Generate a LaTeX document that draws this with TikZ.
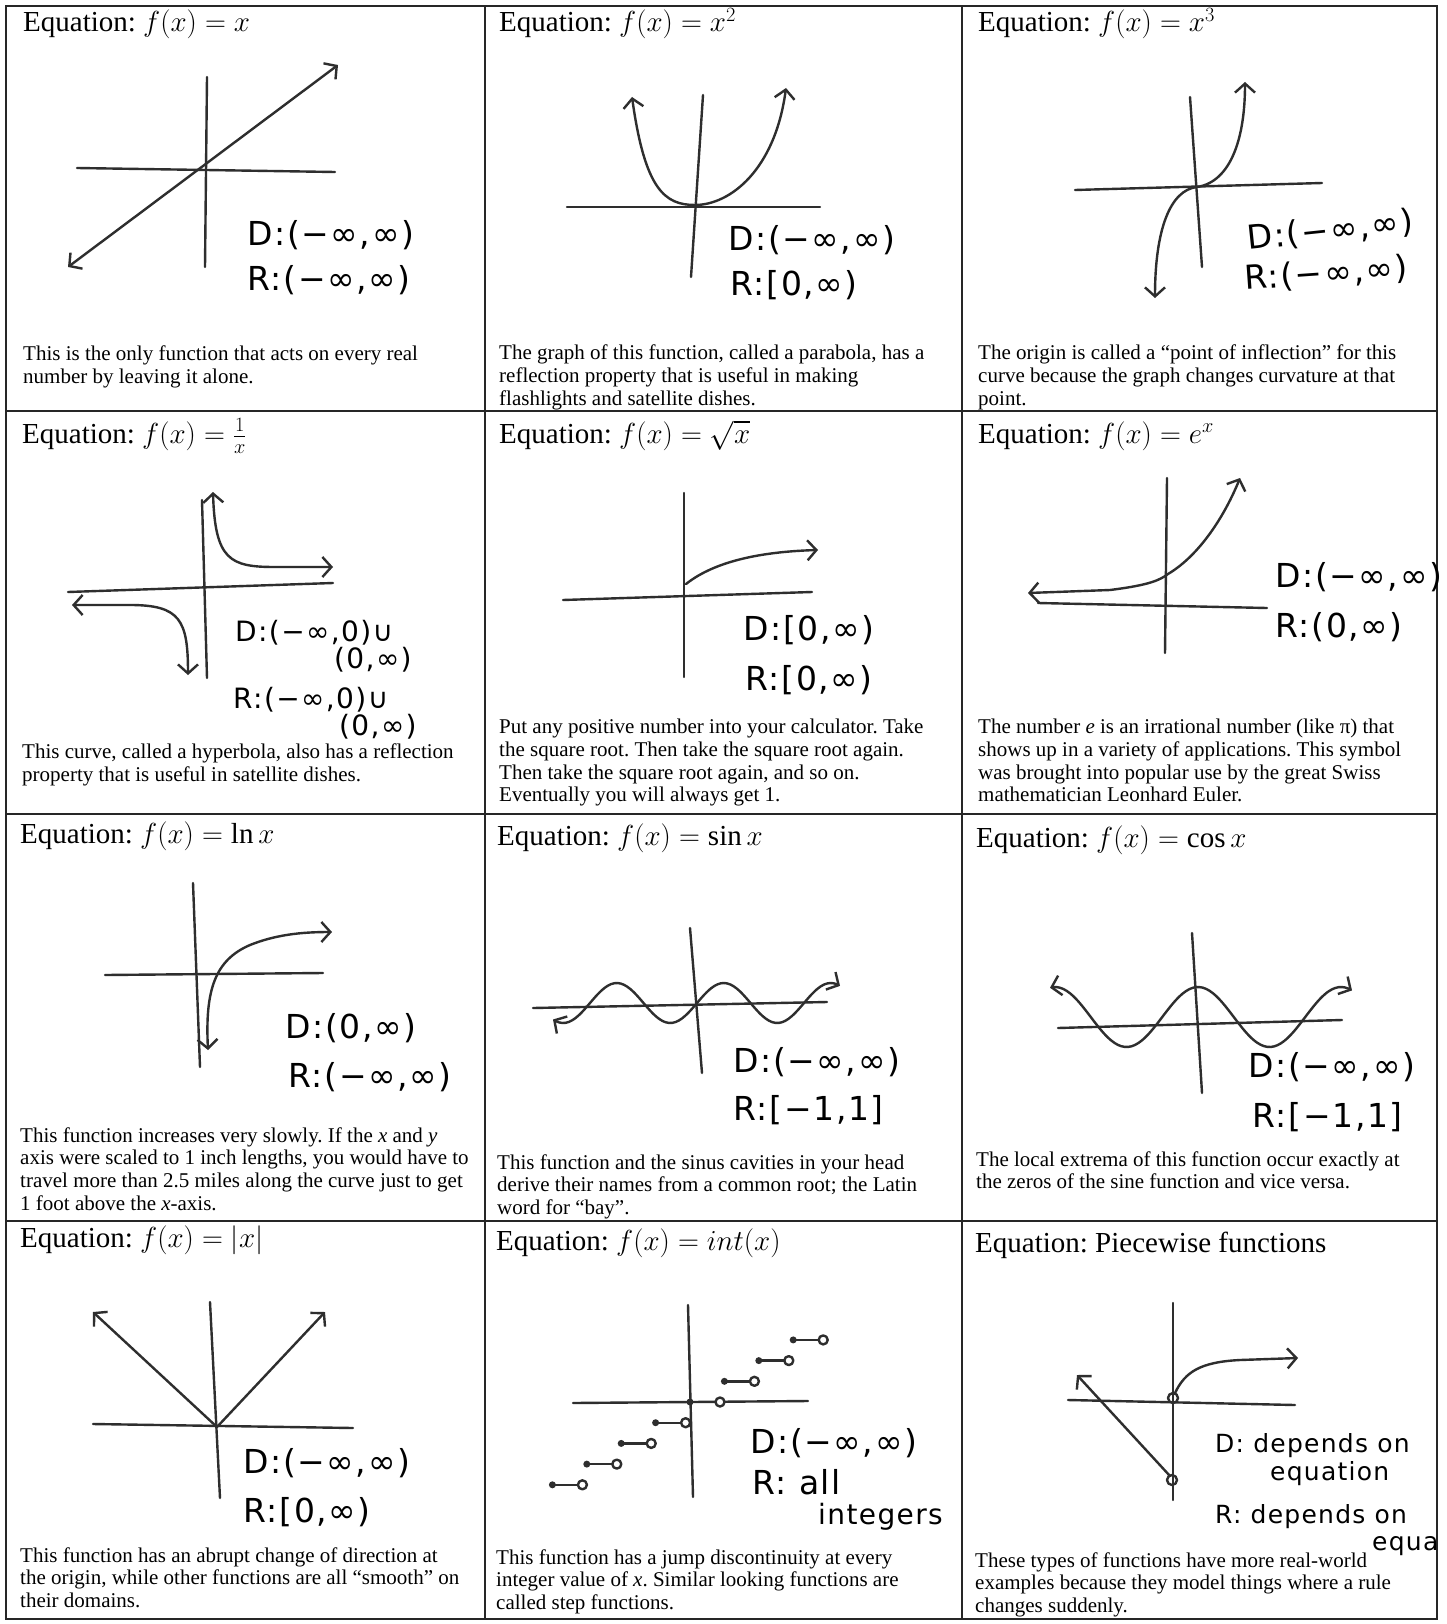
\RequirePackage{fix-cm}
\documentclass[tikz,border=0pt]{standalone}
\usepackage{fontspec}
\setmainfont{Liberation Serif}
\newfontfamily\handfamily[LetterSpace=5]{DejaVu Sans}
\usetikzlibrary{arrows.meta}

\newcommand\headfont{\fontsize{29}{32}\selectfont}
\newcommand\notefont{\fontsize{21}{22.7}\selectfont}
\newcommand\handfont{\handfamily\fontsize{33}{36}\selectfont}
\frenchspacing

\begin{document}
\begin{tikzpicture}[
	x=1pt, y=-1pt,
	head/.style={anchor=base west, inner sep=0pt, font=\headfont},
	note/.style={anchor=north west, inner sep=0pt, align=left, font=\notefont, execute at begin node=\strut},
	hand/.style={anchor=base west, inner sep=0pt, font=\handfont},
	smallhand/.style={hand, font=\handfamily\fontsize{#1}{#1}\selectfont},
	rule/.style={line width=1.5pt, black!85},
	axisline/.style={line width=2.4pt, black!82, line cap=round},
	fn/.style={line width=2.4pt, black!82, line cap=round, line join=round},
	>={Straight Barb[length=9pt, width=20pt]}
]
\useasboundingbox (0,0) rectangle (1447,1624);
\fill[white] (0,0) rectangle (1447,1624);

% table
\draw[rule] (6,6) rectangle (1437,1619);
\foreach \cx in {485,962} \draw[rule] (\cx,6) -- (\cx,1619);
\foreach \cy in {411,814,1221} \draw[rule] (6,\cy) -- (1437,\cy);

% row 1
\node[head] (t11) at (23,32) {Equation: $f(x) = x$};
\draw[axisline] (77,168) -- (335,172);
\draw[axisline] (207,77) -- (205,267);
\draw[fn, <->] (68,267) -- (338,65);
\node[hand] (d11) at (247,245) {D:(−∞,∞)};
\node[hand] (r11) at (247,290) {R:(−∞,∞)};
\node[note] (n11) at (23,346) {This is the only function that acts on every real\\number by leaving it alone.};

\node[head] (t12) at (499,32) {Equation: $f(x) = x^2$};
\draw[axisline] (567,207) -- (820,207);
\draw[axisline] (703,95) -- (691,277);
\draw[fn, <->] (632,97) .. controls (645,190) and (665,205) .. (695,205)
	.. controls (730,205) and (775,170) .. (786,88);
\node[hand] (d12) at (728,250) {D:(−∞,∞)};
\node[hand] (r12) at (730,295) {R:[0,∞)};
\node[note] (n12) at (499,345) {The graph of this function, called a parabola, has a\\reflection property that is useful in making\\flashlights and satellite dishes.};

\node[head] (t13) at (978,32) {Equation: $f(x) = x^3$};
\draw[axisline] (1075,190) -- (1322,183);
\draw[axisline] (1190,97) -- (1202,267);
\draw[fn, <->] (1155,298) .. controls (1155,230) and (1170,190) .. (1197,187)
	.. controls (1230,182) and (1245,140) .. (1245,82);
\node[hand, rotate=6] (d13) at (1248,250) {D:(−∞,∞)};
\node[hand, rotate=4] (r13) at (1245,290) {R:(−∞,∞)};
\node[note] (n13) at (978,345) {The origin is called a “point of inflection” for this\\curve because the graph changes curvature at that\\point.};

% row 2
\node[head] (t21) at (22,443) {Equation: $f(x) = \frac{1}{x}$};
\draw[axisline] (68,592) -- (333,583);
\draw[axisline] (202,500) -- (207,678);
\draw[fn, <->] (213,492) .. controls (215,560) and (230,567) .. (275,567) -- (333,567);
\draw[fn, <->] (72,605) -- (130,605) .. controls (180,605) and (188,620) .. (188,675);
\node[smallhand=28] (d21) at (235,641) {D:(−∞,0)∪};
\node[smallhand=28] (d21b) at (334,668) {(0,∞)};
\node[smallhand=28] (r21) at (233,708) {R:(−∞,0)∪};
\node[smallhand=28] (r21b) at (339,735) {(0,∞)};
\node[note] (n21) at (22,744) {This curve, called a hyperbola, also has a reflection\\property that is useful in satellite dishes.};

\node[head] (t22) at (499,443) {Equation: $f(x) = \sqrt{x}$};
\draw[axisline] (563,600) -- (812,592);
\draw[axisline] (684,493) -- (684,677);
\draw[fn, ->] (686,584) .. controls (710,565) and (750,552) .. (818,550);
\node[hand] (d22) at (743,640) {D:[0,∞)};
\node[hand] (r22) at (745,690) {R:[0,∞)};
\node[note] (n22) at (499,719) {Put any positive number into your calculator. Take\\the square root. Then take the square root again.\\Then take the square root again, and so on.\\Eventually you will always get 1.};

\node[head] (t23) at (978,443) {Equation: $f(x) = e^x$};
\draw[axisline] (1038,603) -- (1267,608);
\draw[axisline] (1167,478) -- (1165,653);
\draw[fn, <->] (1028,593) -- (1110,590) .. controls (1150,585) and (1160,580) .. (1168,574)
	.. controls (1200,555) and (1225,515) .. (1240,478);
\node[hand] (d23) at (1275,587) {D:(−∞,∞)};
\node[hand] (r23) at (1275,637) {R:(0,∞)};
\node[note] (n23) at (978,719) {The number \textit{e} is an irrational number (like π) that\\shows up in a variety of applications. This symbol\\was brought into popular use by the great Swiss\\mathematician Leonhard Euler.};

% row 3
\node[head] (t31) at (20,843) {Equation: $f(x) = \ln x$};
\draw[axisline] (105,975) -- (323,973);
\draw[axisline] (193,883) -- (200,1067);
\draw[fn, <->] (208,1050) .. controls (205,990) and (215,960) .. (250,945)
	.. controls (275,935) and (300,932) .. (332,932);
\node[hand] (d31) at (285,1038) {D:(0,∞)};
\node[hand] (r31) at (288,1087) {R:(−∞,∞)};
\node[note] (n31) at (20,1127) {This function increases very slowly. If the \textit{x} and \textit{y}\\axis were scaled to 1 inch lengths, you would have to\\travel more than 2.5 miles along the curve just to get\\1 foot above the \textit{x}-axis.};

\node[head] (t32) at (497,845) {Equation: $f(x) = \sin x$};
\draw[axisline] (533,1008) -- (827,1002);
\draw[axisline] (690,928) -- (702,1073);
\draw[fn, <->] plot[domain=553:840, samples=90, smooth] (\x,{1003-20*sin(3.3645*(\x-697))});
\node[hand] (d32) at (733,1072) {D:(−∞,∞)};
\node[hand] (r32) at (733,1120) {R:[−1,1]};
\node[note] (n32) at (497,1154) {This function and the sinus cavities in your head\\derive their names from a common root; the Latin\\word for “bay”.};

\node[head] (t33) at (976,847) {Equation: $f(x) = \cos x$};
\draw[axisline] (1058,1028) -- (1342,1020);
\draw[axisline] (1192,933) -- (1202,1093);
\draw[fn, <->] plot[domain=1050:1352, samples=90, smooth] (\x,{1017-30*cos(2.5175*(\x-1198))});
\node[hand] (d33) at (1248,1077) {D:(−∞,∞)};
\node[hand] (r33) at (1252,1127) {R:[−1,1]};
\node[note] (n33) at (976,1151) {The local extrema of this function occur exactly at\\the zeros of the sine function and vice versa.};

% row 4
\node[head] (t41) at (20,1247) {Equation: $f(x) = |x|$};
\draw[axisline] (93,1424) -- (353,1428);
\draw[axisline] (210,1302) -- (220,1498);
\draw[fn, <->] (93,1312) -- (217,1427) -- (325,1312);
\node[hand] (d41) at (243,1473) {D:(−∞,∞)};
\node[hand] (r41) at (243,1522) {R:[0,∞)};
\node[note] (n41) at (20,1547) {This function has an abrupt change of direction at\\the origin, while other functions are all “smooth” on\\their domains.};

\node[head] (t42) at (496,1250) {Equation: $f(x) = int(x)$};
\draw[axisline] (573,1403) -- (808,1401);
\draw[axisline] (688,1305) -- (693,1497);
\foreach \k in {-4,...,3} {
	\draw[fn] ({690+34.4*\k},{1402-20.7*\k}) -- ++(26,0);
	\fill[black!82] ({690+34.4*\k},{1402-20.7*\k}) circle[radius=3.5pt];
	\draw[fn, fill=white] ({720+34.4*\k},{1402-20.7*\k}) circle[radius=4.5pt];
}
\node[hand] (d42) at (750,1453) {D:(−∞,∞)};
\node[hand] (r42) at (752,1494) {R: all};
\node[smallhand=28] (r42b) at (818,1524) {integers};
\node[note] (n42) at (496,1549) {This function has a jump discontinuity at every\\integer value of \textit{x}. Similar looking functions are\\called step functions.};

\node[head] (t43) at (975,1252) {Equation: Piecewise functions};
\draw[axisline] (1068,1400) -- (1295,1405);
\draw[axisline] (1173,1303) -- (1173,1500);
\draw[fn, ->] (1170,1476) -- (1077,1375);
\draw[fn, ->] (1175,1393) .. controls (1185,1372) and (1200,1362) .. (1240,1360) -- (1298,1358);
\draw[fn] (1173,1398) circle[radius=5pt];
\draw[fn] (1172,1480) circle[radius=5pt];
\node[smallhand=25] (d43) at (1215,1452) {D: depends on};
\node[smallhand=25] (d43b) at (1270,1480) {equation};
\node[smallhand=25] (r43) at (1215,1523) {R: depends on};
\node[smallhand=25] (r43b) at (1372,1550) {equa};
\node[note] (n43) at (975,1552) {These types of functions have more real-world\\examples because they model things where a rule\\changes suddenly.};

\end{tikzpicture}
\end{document}
